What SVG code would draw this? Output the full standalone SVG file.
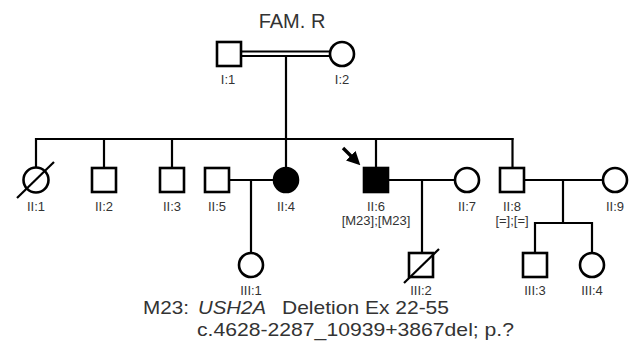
<svg xmlns="http://www.w3.org/2000/svg" width="636" height="345" viewBox="0 0 636 345">
<style>
.sym{fill:#fff;stroke:#000;stroke-width:2.6}
.aff{fill:#000;stroke:#000;stroke-width:2.6}
.ln{stroke:#000;stroke-width:2.2;fill:none}
.lbl{font-family:"Liberation Sans",Arial,sans-serif;font-size:13px;fill:#333;text-anchor:middle}
.big{font-family:"Liberation Sans",Arial,sans-serif;font-size:20px;fill:#333}
.leg{font-family:"Liberation Sans",Arial,sans-serif;font-size:19px;fill:#333}
</style>
<defs>
<marker id="ah" markerWidth="4" markerHeight="4" refX="2.2" refY="2" orient="auto" markerUnits="strokeWidth">
<path d="M0,0 L4,2 L0,4 z" fill="#000"/>
</marker>
</defs>
<rect width="636" height="345" fill="#fff"/>
<text class="big" x="292" y="28" text-anchor="middle">FAM. R</text>

<g id="connectors">
<line class="ln" x1="241" y1="51.5" x2="330" y2="51.5"/>
<line class="ln" x1="241" y1="56" x2="330" y2="56"/>
<line class="ln" x1="286" y1="56" x2="286" y2="139"/>
<line class="ln" x1="35" y1="139" x2="513.5" y2="139"/>
<line class="ln" x1="36" y1="138" x2="36" y2="168"/>
<line class="ln" x1="104" y1="139" x2="104" y2="168"/>
<line class="ln" x1="172" y1="139" x2="172" y2="168"/>
<line class="ln" x1="286" y1="139" x2="286" y2="168"/>
<line class="ln" x1="376" y1="139" x2="376" y2="168"/>
<line class="ln" x1="512.5" y1="138" x2="512.5" y2="168"/>
<line class="ln" x1="229" y1="180" x2="274" y2="180"/>
<line class="ln" x1="251" y1="180" x2="251" y2="253"/>
<line class="ln" x1="388" y1="180" x2="455" y2="180"/>
<line class="ln" x1="422" y1="180" x2="422" y2="253"/>
<line class="ln" x1="524" y1="180" x2="603" y2="180"/>
<line class="ln" x1="563" y1="180" x2="563" y2="223"/>
<line class="ln" x1="534" y1="223" x2="593" y2="223"/>
<line class="ln" x1="535" y1="222" x2="535" y2="253"/>
<line class="ln" x1="592" y1="222" x2="592" y2="253"/>
<line x1="343" y1="148" x2="356" y2="161" stroke="#000" stroke-width="3.4" marker-end="url(#ah)"/>
</g>

<g id="I1"><rect class="sym" x="217" y="42" width="24" height="24"/><text class="lbl" x="228" y="84">I:1</text></g>
<g id="I2"><circle class="sym" cx="342" cy="54" r="12"/><text class="lbl" x="342" y="84">I:2</text></g>

<g id="II1"><circle class="sym" cx="36" cy="180" r="12.5"/><line class="ln" x1="17" y1="198" x2="54" y2="162"/><text class="lbl" x="36" y="211">II:1</text></g>
<g id="II2"><rect class="sym" x="92" y="168" width="24" height="24"/><text class="lbl" x="104" y="211">II:2</text></g>
<g id="II3"><rect class="sym" x="160" y="168" width="24" height="24"/><text class="lbl" x="172" y="211">II:3</text></g>
<g id="II5"><rect class="sym" x="205" y="168" width="24" height="24"/><text class="lbl" x="217" y="211">II:5</text></g>
<g id="II4"><circle class="aff" cx="286" cy="180" r="12"/><text class="lbl" x="286" y="211">II:4</text></g>
<g id="II6"><rect class="aff" x="364" y="168" width="24" height="24"/><text class="lbl" x="376" y="211">II:6</text><text class="lbl" x="376" y="225">[M23];[M23]</text></g>
<g id="II7"><circle class="sym" cx="467" cy="180" r="12"/><text class="lbl" x="467" y="211">II:7</text></g>
<g id="II8"><rect class="sym" x="500" y="168" width="24" height="24"/><text class="lbl" x="512" y="211">II:8</text><text class="lbl" x="512" y="225">[=];[=]</text></g>
<g id="II9"><circle class="sym" cx="615" cy="180" r="12"/><text class="lbl" x="615" y="211">II:9</text></g>

<g id="III1"><circle class="sym" cx="251" cy="265" r="12"/><text class="lbl" x="251" y="295">III:1</text></g>
<g id="III2"><rect class="sym" x="409" y="253" width="24" height="24"/><line class="ln" x1="404" y1="283" x2="439" y2="249"/><text class="lbl" x="421" y="295">III:2</text></g>
<g id="III3"><rect class="sym" x="523" y="253" width="24" height="24"/><text class="lbl" x="535" y="295">III:3</text></g>
<g id="III4"><circle class="sym" cx="592" cy="265" r="12"/><text class="lbl" x="592" y="295">III:4</text></g>

<g id="legend">
<text class="leg" x="143" y="314" textLength="46" lengthAdjust="spacingAndGlyphs">M23:</text>
<text class="leg" x="198" y="314" font-style="italic" textLength="68" lengthAdjust="spacingAndGlyphs">USH2A</text>
<text class="leg" x="282" y="314" textLength="167" lengthAdjust="spacingAndGlyphs">Deletion Ex 22-55</text>
<text class="leg" x="197" y="336" textLength="317" lengthAdjust="spacingAndGlyphs">c.4628-2287_10939+3867del; p.?</text>
</g>
</svg>
